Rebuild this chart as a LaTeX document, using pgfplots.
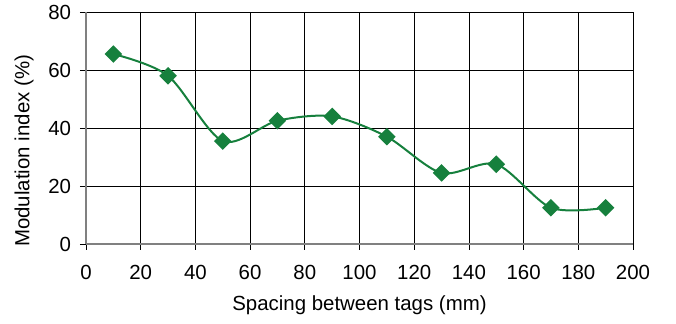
\documentclass[border=0pt]{standalone}
\usepackage{pgfplots}
\pgfplotsset{compat=1.18}
\usepackage{fontspec}
\setmainfont{Liberation Sans}
\definecolor{mygreen}{RGB}{22,128,61}
\definecolor{axgrey}{RGB}{128,128,128}
\begin{document}
\fontsize{20.5}{24}\selectfont
\begin{tikzpicture}
\begin{axis}[
  name=ax,
  scale only axis,
  width=547bp, height=232bp,
  xmin=0, xmax=200, ymin=0, ymax=80,
  xtick={0,20,...,200}, ytick={0,20,...,80},
  axis lines=left,
  axis line style={axgrey, line width=1.2bp, -},
  grid=major,
  major grid style={black, line width=0.8bp},
  tick align=outside,
  major tick length=6bp,
  tick style={black, line width=0.8bp},
  every tick label/.append style={font=\fontsize{20.5}{24}\selectfont},
  /pgf/number format/assume math mode=true,
  xticklabel style={yshift=-8bp},
  yticklabel style={xshift=-2bp},
  xlabel={Spacing between tags (mm)},
  xlabel style={font=\fontsize{20.5}{24}\selectfont, yshift=-2bp},
  clip=false,
]
\addplot[mygreen, line width=2bp, smooth, tension=0.5, mark=square*, mark size=5.2bp,
  mark options={rotate=45, solid, fill=mygreen, draw=mygreen}]
  coordinates {(10,65.5) (30,58) (50,35.5) (70,42.5) (90,44) (110,37) (130,24.5) (150,27.5) (170,12.5) (190,12.5)};
\end{axis}
\node[rotate=90, anchor=west, font=\fontsize{20.5}{24}\selectfont, inner sep=0pt] at ([shift={(-62bp,-3bp)}]ax.south west) {Modulation index (\%)};
\pgfresetboundingbox
\path[use as bounding box] ([shift={(-86bp,-80bp)}]ax.south west) rectangle ([shift={(43bp,12bp)}]ax.north east);
\end{tikzpicture}
\end{document}
